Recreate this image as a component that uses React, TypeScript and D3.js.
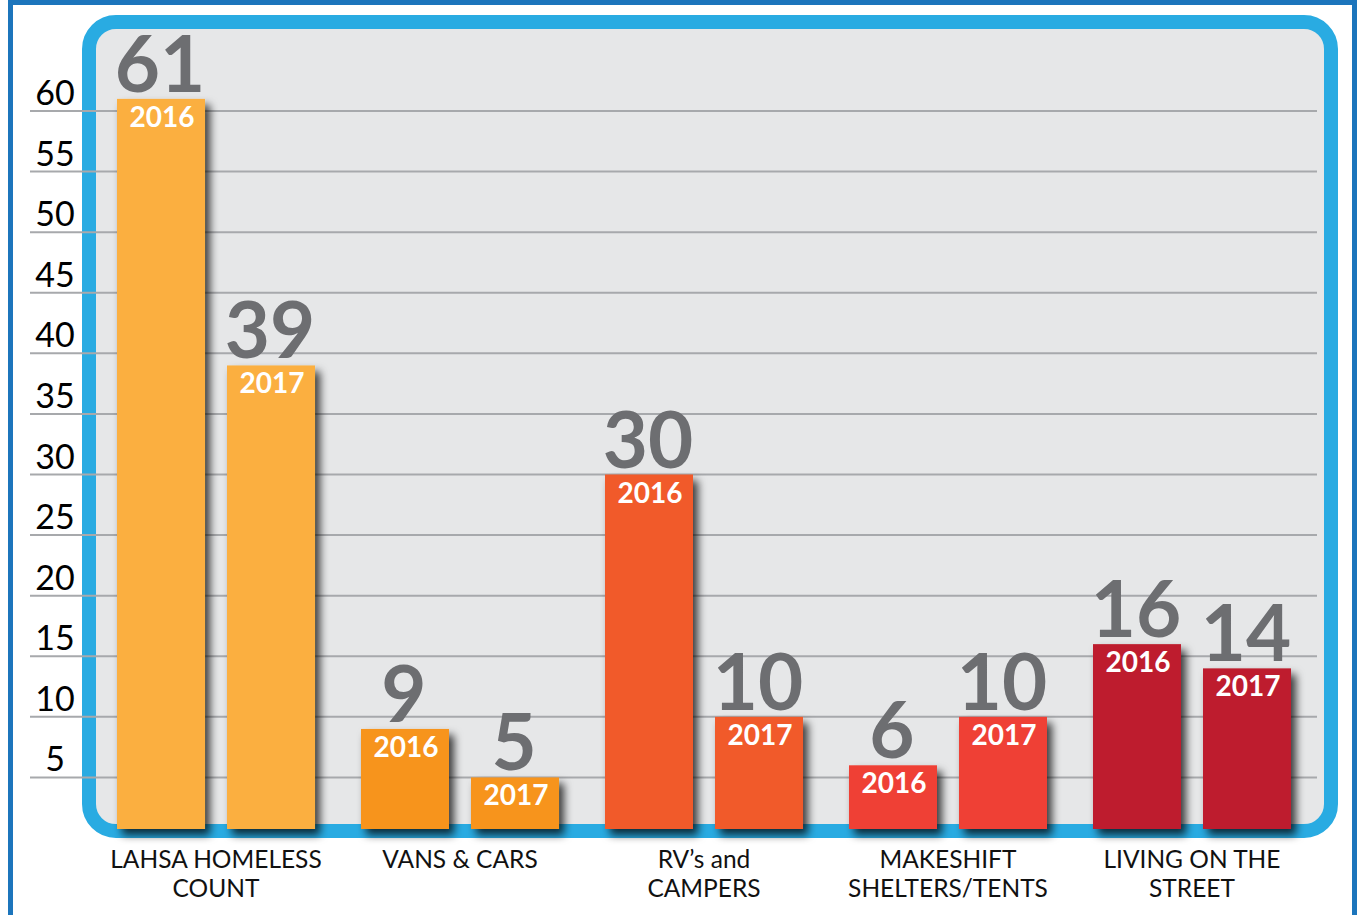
import React from "react";
import * as d3 from "d3";

const categoryLines: string[][] = [
  ["LAHSA HOMELESS", "COUNT"],
  ["VANS & CARS"],
  ["RV’s and", "CAMPERS"],
  ["MAKESHIFT", "SHELTERS/TENTS"],
  ["LIVING ON THE", "STREET"],
];
const years = ["2016", "2017"];
const values2016 = [61, 9, 30, 6, 16];
const values2017 = [39, 5, 10, 10, 14];
const categoryColors = ["#fbaf41", "#f7941d", "#f15a29", "#ef4136", "#be1e2d"];
const yTicks = [5, 10, 15, 20, 25, 30, 35, 40, 45, 50, 55, 60];

const W = 1361;
const H = 915;
const FONT = "Lato, 'Open Sans', sans-serif";

export default function App() {
  const x0 = d3
    .scaleBand<number>()
    .domain(d3.range(categoryLines.length))
    .range([117, 1291])
    .paddingInner(0.1885)
    .paddingOuter(0);
  const x1 = d3.scaleBand<string>().domain(years).range([0, x0.bandwidth()]).paddingInner(0.2);
  const y = d3.scaleLinear().domain([0, 60]).range([838, 111]);
  const barBottom = 829;

  const series = [values2016, values2017];

  return (
    <svg
      width={W}
      height={H}
      style={{ position: "absolute", left: 0, top: 0, background: "#fff" }}
      fontFamily={FONT}
    >
      <defs>
        <filter id="shadow" x="-20%" y="-20%" width="150%" height="150%">
          <feDropShadow dx="5" dy="6" stdDeviation="4" floodColor="#000" floodOpacity="0.75" />
        </filter>
      </defs>
      {/* outer frame */}
      <rect x={10.5} y={2.5} width={1344} height={1000} fill="#fff" stroke="#1c75bc" strokeWidth={5} />
      {/* panel */}
      <rect x={89} y={22} width={1242} height={809} rx={27} ry={27} fill="#e6e7e8" stroke="#29abe2" strokeWidth={14} />
      {/* grid lines */}
      {yTicks.map((t) => (
        <line key={t} x1={30} x2={1317} y1={y(t)} y2={y(t)} stroke="#a7a9ac" strokeWidth={2} />
      ))}
      {/* tick labels */}
      {yTicks.map((t) => (
        <text key={"l" + t} x={55} y={y(t) - 6} textAnchor="middle" fontSize={34} fill="#000">
          {t}
        </text>
      ))}
      {/* bars */}
      {categoryLines.map((_, ci) =>
        years.map((yr, si) => {
          const v = series[si][ci];
          const bx = (x0(ci) as number) + (x1(yr) as number);
          const bw = x1.bandwidth();
          const top = y(v);
          return (
            <rect
              key={ci + "-" + yr}
              x={bx}
              y={top}
              width={bw}
              height={barBottom - top}
              fill={categoryColors[ci]}
              filter="url(#shadow)"
            />
          );
        })
      )}
      {/* labels */}
      {categoryLines.map((_, ci) =>
        years.map((yr, si) => {
          const v = series[si][ci];
          const bx = (x0(ci) as number) + (x1(yr) as number);
          const bw = x1.bandwidth();
          const top = y(v);
          return (
            <g key={"t" + ci + "-" + yr}>
              <text
                x={bx + bw / 2 - 1}
                y={top - 7}
                textAnchor="middle"
                fontSize={78}
                fontWeight={700}
                fill="#6d6e71"
              >
                {v}
              </text>
              <text
                x={bx + bw / 2 + 1}
                y={top + 28}
                textAnchor="middle"
                fontSize={28}
                fontWeight={700}
                fill="#fff"
              >
                {yr}
              </text>
            </g>
          );
        })
      )}
      {/* category labels */}
      {categoryLines.map((lines, ci) => (
        <text
          key={"c" + ci}
          x={(x0(ci) as number) + x0.bandwidth() / 2}
          y={868}
          textAnchor="middle"
          fontSize={24.5}
          fill="#111"
        >
          {lines.map((ln, li) => (
            <tspan key={li} x={(x0(ci) as number) + x0.bandwidth() / 2} dy={li === 0 ? 0 : 29}>
              {ln}
            </tspan>
          ))}
        </text>
      ))}
    </svg>
  );
}
